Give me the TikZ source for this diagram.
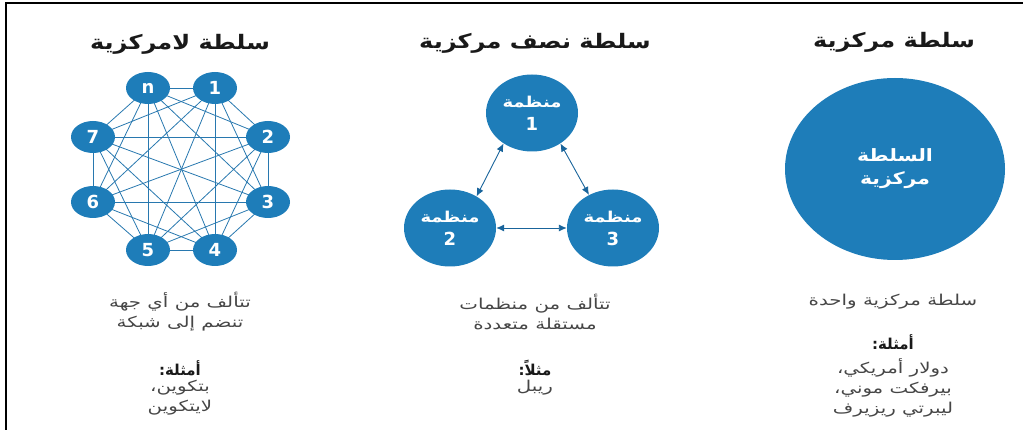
\documentclass[tikz,border=0pt]{standalone}
\usepackage{fontspec}
\usetikzlibrary{arrows.meta,backgrounds,shapes.geometric}
\TeXXeTstate=1
\setmainfont{DejaVu Sans}
\newfontfamily\arfont[Script=Arabic,FakeStretch=1.2]{DejaVu Sans}
\newfontfamily\arbody[Script=Arabic,FakeStretch=1.32]{DejaVu Sans}
\newfontfamily\arplain[Script=Arabic]{DejaVu Sans}
\newcommand\AR[1]{{\arfont\beginR #1\endR}}
\newcommand\ARb[1]{{\arbody\beginR #1\endR}}
\newcommand\ARn[1]{{\arplain\beginR #1\endR}}
\newcommand\bignum[1]{{\fontsize{18}{18}\selectfont #1}}
\definecolor{nodeblue}{RGB}{30,125,185}
\definecolor{edgeblue}{RGB}{40,120,175}
\definecolor{arrowblue}{RGB}{25,100,155}
\definecolor{titlecol}{RGB}{25,25,25}
\definecolor{bodycol}{RGB}{70,70,70}
\tikzset{
  netnode/.style={ellipse,fill=nodeblue,minimum width=44pt,minimum height=32pt,inner sep=0pt,text=white,font=\fontsize{18}{18}\selectfont\bfseries},
  orgnode/.style={ellipse,fill=nodeblue,minimum width=92pt,minimum height=77pt,inner sep=0pt,text=white,align=center,font=\fontsize{15}{23}\selectfont\bfseries},
  bignode/.style={ellipse,fill=nodeblue,minimum width=220pt,minimum height=182pt,inner sep=0pt,text=white,align=center,font=\fontsize{17}{23}\selectfont\bfseries},
  titletext/.style={text=titlecol,font=\fontsize{20}{22}\selectfont\bfseries,inner sep=0pt},
  bodytext/.style={text=bodycol,font=\fontsize{15}{20}\selectfont,inner sep=0pt,align=center},
  boldtext/.style={text=titlecol,font=\fontsize{15}{20}\selectfont\bfseries,inner sep=0pt},
  netedge/.style={draw=edgeblue,line width=0.8pt},
  orgarrow/.style={draw=arrowblue,line width=0.9pt,{Latex[length=8pt,width=7pt]}-{Latex[length=8pt,width=7pt]}},
  frameline/.style={draw=black,line width=2pt}
}
\begin{document}
\begin{tikzpicture}[x=1pt,y=-1pt]
\useasboundingbox (0,0) rectangle (1023,430);
\coordinate (ftr) at (1023,3);
\coordinate (ftl) at (6,3);
\coordinate (fbl) at (6,430);
\draw[frameline] (ftr) -- (ftl) -- (fbl);

% ---- Decentralized ----
\node[titletext] (t1) at (180,44) {\AR{سلطة لامركزية}};
\node[netnode] (nn) at (148,88) {n};
\node[netnode] (n1) at (215,88) {1};
\node[netnode] (n2) at (268,137) {2};
\node[netnode] (n3) at (268,202) {3};
\node[netnode] (n4) at (215,250) {4};
\node[netnode] (n5) at (148,250) {5};
\node[netnode] (n6) at (93,202) {6};
\node[netnode] (n7) at (93,137) {7};
\begin{scope}[on background layer]
\foreach \a [count=\i] in {nn,n1,n2,n3,n4,n5,n6,n7}{
  \foreach \b [count=\j] in {nn,n1,n2,n3,n4,n5,n6,n7}{
    \ifnum\j>\i \draw[netedge] (\a.center) -- (\b.center); \fi
  }
}
\end{scope}
\node[bodytext] (d1) at (180,312) {\ARb{تتألف من أي جهة}\\\ARb{تنضم إلى شبكة}};
\node[boldtext] (d2) at (180,368) {\ARn{أمثلة:}};
\node[bodytext] (d3) at (180,398) {\ARb{بتكوين،}\\\ARb{لايتكوين}};

% ---- Semi-centralized ----
\node[titletext] (t2) at (535,43) {\AR{سلطة نصف مركزية}};
\node[orgnode] (m1) at (532,113) {\AR{منظمة}\\\bignum{1}};
\node[orgnode] (m2) at (450,228) {\AR{منظمة}\\\bignum{2}};
\node[orgnode] (m3) at (613,228) {\AR{منظمة}\\\bignum{3}};
\draw[orgarrow] (m1.227) -- (m2.50);
\draw[orgarrow] (m1.313) -- (m3.126);
\draw[orgarrow] (m2.east) -- (m3.west);
\node[bodytext] (s1) at (535,312) {\ARb{تتألف من منظمات}\\\ARb{مستقلة متعددة}};
\node[boldtext] (s2) at (535,368) {\ARn{مثلاً:}};
\node[bodytext] (s3) at (535,388) {\ARb{ريبل}};

% ---- Centralized ----
\node[titletext] (t3) at (894,42) {\AR{سلطة مركزية}};
\node[bignode] (c1) at (895,169) {\AR{السلطة}\\\AR{مركزية}};
\node[bodytext] (r1) at (893,302) {\ARb{سلطة مركزية واحدة}};
\node[boldtext] (r2) at (893,342) {\ARn{أمثلة:}};
\node[bodytext] (r3) at (893,388) {\ARb{دولار أمريكي،}\\\ARb{بيرفكت موني،}\\\ARb{ليبرتي ريزيرف}};
\end{tikzpicture}
\end{document}
